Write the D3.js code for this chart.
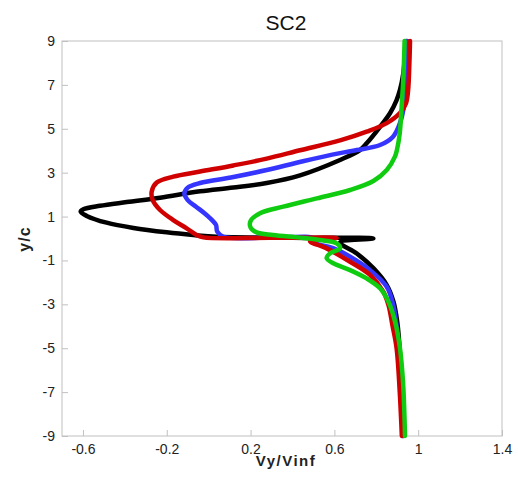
<!DOCTYPE html>
<html><head><meta charset="utf-8">
<script src="https://cdn.jsdelivr.net/npm/d3@7"></script>
<style>body{margin:0;background:#fff}</style>
</head><body>
<svg id="c" width="518" height="479"></svg>
<script>
const xTicks = [-0.6, -0.2, 0.2, 0.6, 1, 1.4];
const yTicks = [9, 7, 5, 3, 1, -1, -3, -5, -7, -9];

// [Vy/Vinf, y/c]
const blackSeries = [
  [0.942, 9], [0.936, 8.2], [0.929, 7.53], [0.913, 6.77], [0.897, 6.31], [0.866, 5.72],
  [0.818, 5.09], [0.754, 4.34], [0.722, 4.03], [0.627, 3.58], [0.436, 2.88], [0.277, 2.53],
  [0.118, 2.32], [-0.041, 2.15], [-0.232, 1.86], [-0.391, 1.66], [-0.519, 1.49], [-0.598, 1.33],
  [-0.611, 1.22], [-0.582, 1.03], [-0.487, 0.72], [-0.359, 0.48], [-0.200, 0.28], [-0.073, 0.16],
  [0.038, 0.08], [0.40, 0.03], [0.786, 0.0], [0.627, -0.18], [0.707, -0.68], [0.786, -1.35],
  [0.85, -2.12], [0.882, -2.88], [0.900, -3.8], [0.912, -5.08], [0.921, -6.5], [0.928, -9]
];
const blueSeries = [
  [0.948, 9], [0.944, 7.5], [0.935, 6.2], [0.913, 5.26], [0.880, 4.64], [0.818, 4.26],
  [0.707, 4.03], [0.627, 3.89], [0.45, 3.52], [0.277, 3.12], [0.118, 2.80], [-0.041, 2.53],
  [-0.100, 2.32], [-0.116, 2.05], [-0.100, 1.75], [-0.060, 1.45], [-0.020, 1.15], [0.015, 0.85],
  [0.035, 0.62], [0.041, 0.31], [0.070, 0.08], [0.30, 0.04], [0.50, 0.02], [0.492, -0.15],
  [0.594, -0.44], [0.675, -0.83], [0.77, -1.44], [0.85, -2.2], [0.880, -3.0], [0.897, -4.0],
  [0.910, -5.5], [0.920, -7], [0.926, -9]
];
const redSeries = [
  [0.961, 9], [0.958, 8], [0.952, 6.77], [0.942, 6.17], [0.913, 5.72], [0.850, 5.26],
  [0.754, 4.87], [0.627, 4.47], [0.436, 4.02], [0.277, 3.64], [0.118, 3.33], [-0.041, 3.05],
  [-0.169, 2.82], [-0.248, 2.55], [-0.272, 2.13], [-0.267, 1.75], [-0.232, 1.30], [-0.169, 0.84],
  [-0.105, 0.46], [-0.057, 0.16], [-0.025, 0.05], [0.30, 0.03], [0.611, 0.02], [0.484, -0.12],
  [0.563, -0.45], [0.675, -1.06], [0.770, -1.66], [0.834, -2.43], [0.858, -3.03], [0.878, -4.0],
  [0.897, -5.0], [0.912, -7], [0.922, -9]
];
const greenSeries = [
  [0.935, 9], [0.930, 7.5], [0.921, 6.0], [0.912, 4.8], [0.900, 4.1], [0.889, 3.73],
  [0.850, 3.12], [0.786, 2.62], [0.675, 2.21], [0.516, 1.83], [0.356, 1.45], [0.245, 1.15],
  [0.200, 0.80], [0.200, 0.50], [0.229, 0.28], [0.307, 0.16], [0.436, 0.04], [0.531, -0.07],
  [0.611, -0.22], [0.627, -0.45], [0.579, -0.68], [0.563, -0.90], [0.595, -1.13], [0.675, -1.44],
  [0.754, -1.82], [0.818, -2.27], [0.858, -2.88], [0.890, -3.8], [0.913, -5.0], [0.928, -6.6],
  [0.937, -9]
];

const series = [
  {data: blackSeries, color: "#000000"},
  {data: blueSeries, color: "#3535ff"},
  {data: redSeries, color: "#d00000"},
  {data: greenSeries, color: "#10cc10"}
];

const L = 62, R = 502, T = 41, B = 436;
const x = d3.scaleLinear().domain([-0.7, 1.4]).range([L, R]);
const y = d3.scaleLinear().domain([-9, 9]).range([B, T]);
const svg = d3.select("#c");
const font = "Liberation Sans, Arial, sans-serif";

svg.append("rect").attr("x", L).attr("y", T).attr("width", R - L).attr("height", B - T)
  .attr("fill", "none").attr("stroke", "#c0c0c0").attr("stroke-width", 1);

const xAxis = svg.append("g").attr("transform", `translate(0,${B})`)
  .call(d3.axisBottom(x).tickValues(xTicks).tickSizeInner(-6).tickSizeOuter(0).tickPadding(8)
    .tickFormat(d => String(d)));
const yAxis = svg.append("g").attr("transform", `translate(${L},0)`)
  .call(d3.axisLeft(y).tickValues(yTicks).tickSizeInner(-6).tickSizeOuter(0).tickPadding(7)
    .tickFormat(d => String(d)));
[xAxis, yAxis].forEach(g => {
  g.select(".domain").remove();
  g.selectAll(".tick line").attr("stroke", "#c0c0c0");
  g.selectAll(".tick text").attr("fill", "#222").style("font-family", font).style("font-size", "14px");
});

svg.append("clipPath").attr("id", "clip").append("rect")
  .attr("x", L).attr("y", T - 3).attr("width", R - L).attr("height", B - T + 6);

const line = d3.line().x(d => x(d[0])).y(d => y(d[1])).curve(d3.curveCatmullRom.alpha(0.5));
svg.append("g").attr("clip-path", "url(#clip)").selectAll("path").data(series).join("path")
  .attr("d", d => line(d.data)).attr("fill", "none").attr("stroke", d => d.color)
  .attr("stroke-width", 4.5).attr("stroke-linejoin", "round").attr("stroke-linecap", "round");

svg.append("text").attr("x", 286).attr("y", 30).attr("text-anchor", "middle")
  .style("font-family", font).style("font-size", "21px").attr("fill", "#111").text("SC2");
svg.append("text").attr("x", 286).attr("y", 466).attr("text-anchor", "middle")
  .style("font-family", font).style("font-size", "15px").style("font-weight", "bold")
  .style("letter-spacing", "1.5px").attr("fill", "#222").text("Vy/Vinf");
svg.append("text").attr("transform", "translate(30,239) rotate(-90)").attr("text-anchor", "middle")
  .style("font-family", font).style("font-size", "16px").style("font-weight", "bold")
  .style("letter-spacing", "1px").attr("fill", "#222").text("y/c");
</script>
</body></html>
